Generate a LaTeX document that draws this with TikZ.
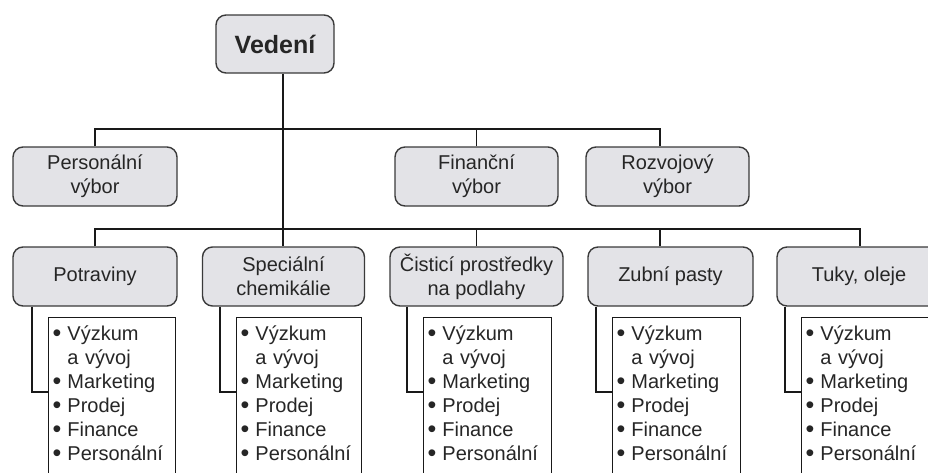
\documentclass[tikz,border=0pt]{standalone}
\usepackage{fontspec}
\setmainfont{Liberation Sans}
\usepackage{xcolor}
\definecolor{boxgray}{HTML}{E3E3E7}
\definecolor{edgegray}{HTML}{3A3A3A}
\definecolor{inkgray}{HTML}{262626}
\usepackage{tikz}
\usetikzlibrary{positioning}
\newcommand{\tecka}{\raisebox{-1.2pt}{\fontsize{25}{24}\selectfont\textbullet}}
\newcommand{\ukoly}{%
  \begin{tabular}[t]{@{}l@{\hspace{6pt}}l@{}}
    \tecka & Výzkum\\
    & a vývoj\\
    \tecka & Marketing\\
    \tecka & Prodej\\
    \tecka & Finance\\
    \tecka & Personální
  \end{tabular}}

\begin{document}
\begin{tikzpicture}[
        x=1pt, y=-1pt,
        unit/.style={rectangle, rounded corners=10pt, draw=edgegray, line width=1.4pt, fill=boxgray, text=inkgray, minimum width=164pt, minimum height=59pt, inner sep=0pt, align=center, font=\fontsize{20}{24}\selectfont},
        head/.style={unit, minimum width=118pt, minimum height=58pt, font=\fontsize{25}{30}\selectfont\bfseries},
        tasks/.style={rectangle, draw=black!90, line width=1.4pt, fill=white, anchor=north west, text width=119pt, align=left, inner xsep=4pt, inner ysep=6pt, text depth=150pt, text=inkgray, font=\fontsize{20}{24}\selectfont},
        link/.style={draw=black!90, line width=1.6pt}
    ]
        \useasboundingbox (0,0) rectangle (928,472);
        \clip (0,0) rectangle (928,472);

        \node[head] (ved) at (275,44) {Vedení};

        \node[unit] (pers) at (95,176.5) {Personální\\výbor};
        \node[unit, minimum width=163pt] (fin) at (476.5,176.5) {Finanční\\výbor};
        \node[unit, minimum width=163pt] (roz) at (667.5,176.5) {Rozvojový\\výbor};

        \node[unit] (pot) at (95,276.5) {Potraviny};
        \node[unit, minimum width=162pt] (spe) at (283.5,276.5) {Speciální\\chemikálie};
        \node[unit, minimum width=173pt] (cis) at (476.5,276.5) {Čisticí prostředky\\na podlahy};
        \node[unit, minimum width=165pt] (zub) at (670.5,276.5) {Zubní pasty};
        \node[unit] (tuk) at (859,276.5) {Tuky, oleje};

        \coordinate (tr) at (283,129);
        \coordinate (c5) at (660,129);
        \coordinate (d5) at (860,229);

        \draw[link] (ved.south -| tr) -- (spe.north -| tr);
        \draw[link] (pers.north) |- (c5) -- (roz.north -| c5);
        \draw[link] (fin.north) -- (fin.north |- c5);
        \draw[link] (pot.north) |- (d5) -- (tuk.north -| d5);
        \draw[link] (cis.north) -- (cis.north |- d5);
        \draw[link] (zub.north -| c5) -- (c5 |- d5);

        \node[tasks] (pot-l) at (48,317) {\ukoly};
        \node[tasks, text width=117pt] (spe-l) at (236,317) {\ukoly};
        \node[tasks, text width=120pt] (cis-l) at (423,317) {\ukoly};
        \node[tasks, text width=120pt] (zub-l) at (612,317) {\ukoly};
        \node[tasks, text width=120pt] (tuk-l) at (801,317) {\ukoly};

        \foreach \d in {pot,spe,cis,zub,tuk} {
            \coordinate (\d-k) at ([shift={(-16pt,-75pt)}]\d-l.north west);
            \draw[link] (\d-k |- \d.south) -- (\d-k) -- (\d-k -| \d-l.west);
        }
    \end{tikzpicture}
\end{document}
